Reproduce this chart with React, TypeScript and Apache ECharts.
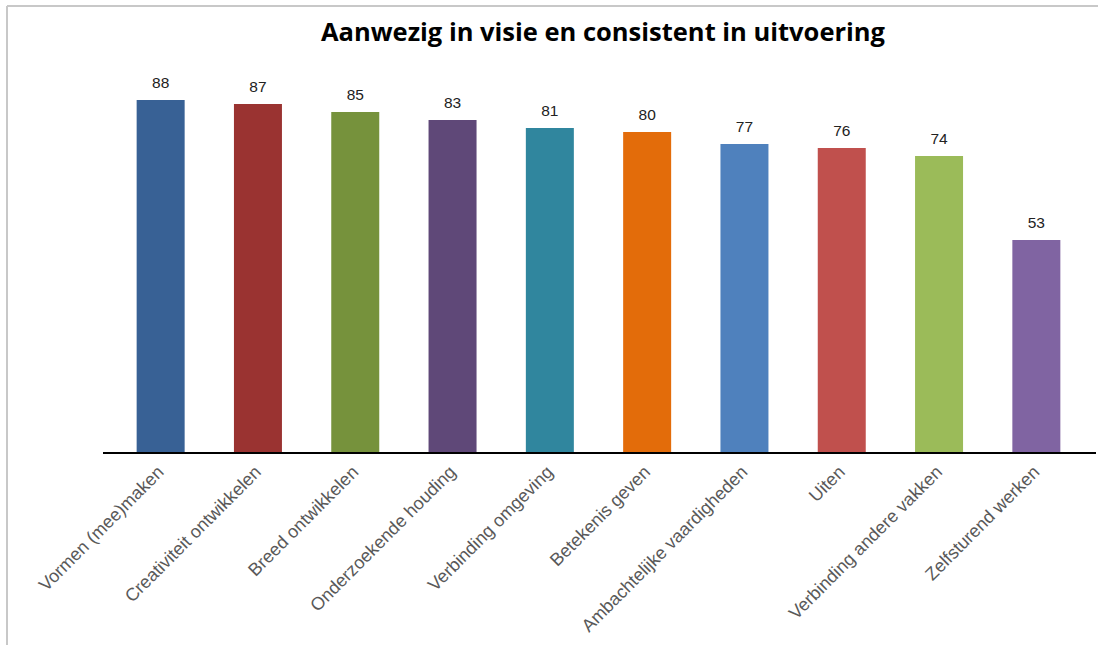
import React, { useEffect, useRef } from "react";
import * as echarts from "echarts";

const categories = [
  "Vormen (mee)maken",
  "Creativiteit ontwikkelen",
  "Breed ontwikkelen",
  "Onderzoekende houding",
  "Verbinding omgeving",
  "Betekenis geven",
  "Ambachtelijke vaardigheden",
  "Uiten",
  "Verbinding andere vakken",
  "Zelfsturend werken",
];
const values = [88, 87, 85, 83, 81, 80, 77, 76, 74, 53];
const colors = [
  "#386195",
  "#9a3331",
  "#76923c",
  "#5f4878",
  "#30869e",
  "#e36c0a",
  "#4f81bd",
  "#c0504d",
  "#9bbb59",
  "#8064a2",
];
const title = "Aanwezig in visie en consistent in uitvoering";

export default function App() {
  const ref = useRef<HTMLDivElement>(null);
  useEffect(() => {
    if (!ref.current) return;
    const chart = echarts.init(ref.current, null, { renderer: "svg" });
    chart.setOption({
      animation: false,
      backgroundColor: "#ffffff",
      title: {
        text: title,
        left: 598,
        top: 13,
        textAlign: "center",
        textStyle: {
          fontFamily: "Open Sans",
          fontWeight: "bold",
          fontSize: 25.5,
          color: "#000000",
        },
      },
      grid: { left: 112, right: 13, top: 52, bottom: 193 },
      xAxis: {
        type: "category",
        data: categories,
        axisLine: { show: false },
        axisTick: { show: false },
        axisLabel: {
          rotate: 45,
          interval: 0,
          fontFamily: "Liberation Sans",
          fontSize: 18,
          color: "#595959",
          margin: 17,
        },
      },
      yAxis: {
        type: "value",
        min: 0,
        max: 100,
        show: false,
        splitLine: { show: false },
      },
      series: [
        {
          type: "bar",
          data: values.map((v, i) => ({ value: v, itemStyle: { color: colors[i] } })),
          barWidth: 48,
          label: {
            show: true,
            position: "top",
            distance: 10,
            fontFamily: "Liberation Sans",
            fontSize: 15.5,
            color: "#222222",
          },
        },
      ],
      graphic: [
        {
          type: "line",
          shape: { x1: 7, y1: 6, x2: 1098, y2: 6 },
          style: { stroke: "#c8c8c8", lineWidth: 2 },
        },
        {
          type: "line",
          shape: { x1: 7, y1: 6, x2: 7, y2: 645 },
          style: { stroke: "#c8c8c8", lineWidth: 2 },
        },
        {
          type: "line",
          z: 10,
          shape: { x1: 103, y1: 453, x2: 1096, y2: 453 },
          style: { stroke: "#000000", lineWidth: 2 },
        },
      ],
    });
    return () => chart.dispose();
  }, []);
  return <div ref={ref} style={{ width: 1098, height: 645, position: "absolute", left: 0, top: 0 }} />;
}
